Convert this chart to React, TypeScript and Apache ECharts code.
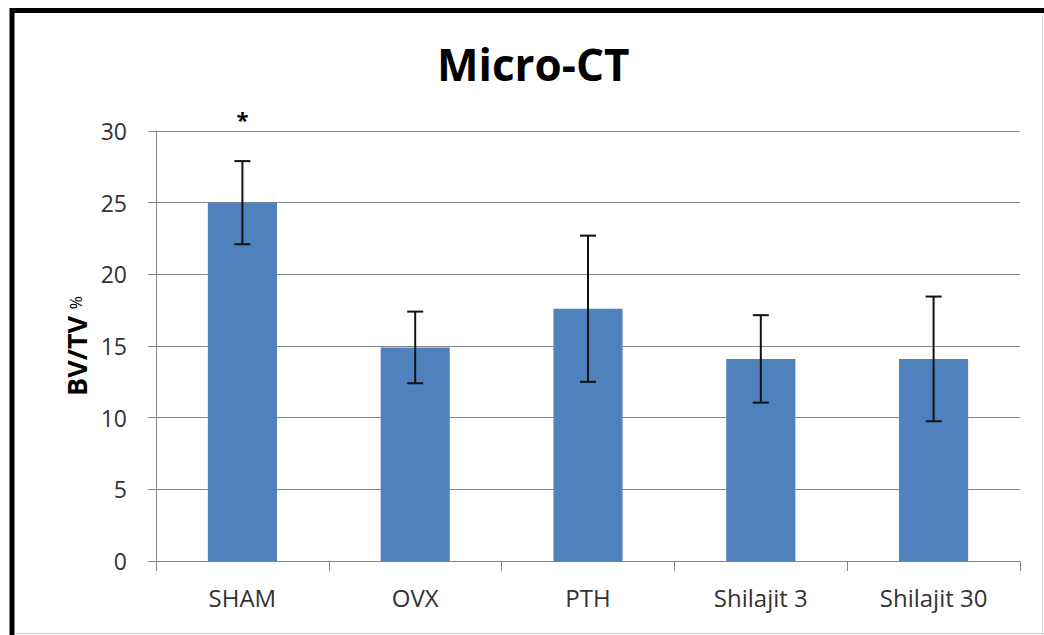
import React, { useEffect, useRef } from "react";
import * as echarts from "echarts";

const categories = ["SHAM", "OVX", "PTH", "Shilajit 3", "Shilajit 30"];
const means = [25.0, 14.9, 17.6, 14.1, 14.1];
const sds = [2.9, 2.5, 5.1, 3.05, 4.35];
const significance = ["*", "", "", "", ""];
const significanceLevel = 31;
const yTicks = { min: 0, max: 30, interval: 5 };

const FONT = '"Open Sans", "Liberation Sans", sans-serif';

export default function App() {
  const ref = useRef<HTMLDivElement>(null);
  useEffect(() => {
    if (!ref.current) return;
    const chart = echarts.init(ref.current, null, { renderer: "svg" });
    const errData = categories.map((c, i) => [i, means[i] + sds[i], means[i] - sds[i]]);
    chart.setOption({
      animation: false,
      backgroundColor: "#ffffff",
      title: {
        text: "Micro-CT",
        left: 437,
        top: 42,
        padding: 0,
        textStyle: { fontFamily: FONT, fontWeight: "bold", fontSize: 44, color: "#000" },
      },
      grid: { left: 156, right: 24, top: 131, bottom: 74 },
      xAxis: {
        type: "category",
        data: categories,
        boundaryGap: true,
        axisLine: { show: true, lineStyle: { color: "#868686", width: 1 } },
        axisTick: { show: true, length: 10, alignWithLabel: false, lineStyle: { color: "#868686" } },
        axisLabel: { margin: 24, fontFamily: FONT, fontSize: 24, color: "#333" },
        splitLine: { show: false },
      },
      yAxis: {
        type: "value",
        min: yTicks.min,
        max: yTicks.max,
        interval: yTicks.interval,
        name: "{b|BV/TV}  {p|%}",
        nameLocation: "middle",
        nameRotate: 90,
        nameGap: 66,
        nameTextStyle: {
          rich: {
            b: { fontFamily: FONT, fontWeight: "bold", fontSize: 27, color: "#000" },
            p: { fontFamily: FONT, fontSize: 16, color: "#000" },
          },
        },
        axisLine: { show: true, lineStyle: { color: "#868686", width: 1 } },
        axisTick: { show: true, length: 8, inside: false, lineStyle: { color: "#868686" } },
        axisLabel: { margin: 29, fontFamily: FONT, fontSize: 23, color: "#333" },
        splitLine: { show: true, lineStyle: { color: "#868686", width: 1 } },
      },
      series: [
        {
          type: "bar",
          data: means,
          barCategoryGap: "60%",
          itemStyle: { color: "#4F81BD" },
        },
        {
          type: "custom",
          data: errData,
          clip: false,
          z: 10,
          renderItem: (params: any, api: any) => {
            const i = api.value(0);
            const top = api.coord([i, api.value(1)]);
            const bot = api.coord([i, api.value(2)]);
            const mark = significance[params.dataIndex];
            const star = api.coord([i, significanceLevel]);
            const half = 8;
            const ls = { stroke: "#111", lineWidth: 2 };
            const children: any[] = [
              { type: "line", shape: { x1: top[0], y1: top[1], x2: bot[0], y2: bot[1] }, style: ls },
              { type: "line", shape: { x1: top[0] - half, y1: top[1], x2: top[0] + half, y2: top[1] }, style: ls },
              { type: "line", shape: { x1: bot[0] - half, y1: bot[1], x2: bot[0] + half, y2: bot[1] }, style: ls },
            ];
            if (mark) {
              children.push({
                type: "text",
                x: star[0],
                y: star[1] + 2,
                style: {
                  text: mark,
                  font: `bold 22px ${FONT}`,
                  fill: "#000",
                  align: "center",
                  verticalAlign: "middle",
                  textAlign: "center",
                  textVerticalAlign: "middle",
                },
              });
            }
            return { type: "group", children };
          },
        },
      ],
      graphic: [
        { type: "line", shape: { x1: 12, y1: 8, x2: 12, y2: 635 }, style: { stroke: "#000", lineWidth: 5 } },
        { type: "line", shape: { x1: 10, y1: 10.5, x2: 1044, y2: 10.5 }, style: { stroke: "#000", lineWidth: 5 } },
        { type: "line", shape: { x1: 14, y1: 633.5, x2: 1044, y2: 633.5 }, style: { stroke: "#c8c8c8", lineWidth: 1 } },
        { type: "line", shape: { x1: 1042.5, y1: 13, x2: 1042.5, y2: 635 }, style: { stroke: "#e0e0e0", lineWidth: 1 } },
      ],
    });
    return () => chart.dispose();
  }, []);
  return (
    <div
      ref={ref}
      style={{ position: "fixed", left: 0, top: 0, width: 1044, height: 635, background: "#fff" }}
    />
  );
}
